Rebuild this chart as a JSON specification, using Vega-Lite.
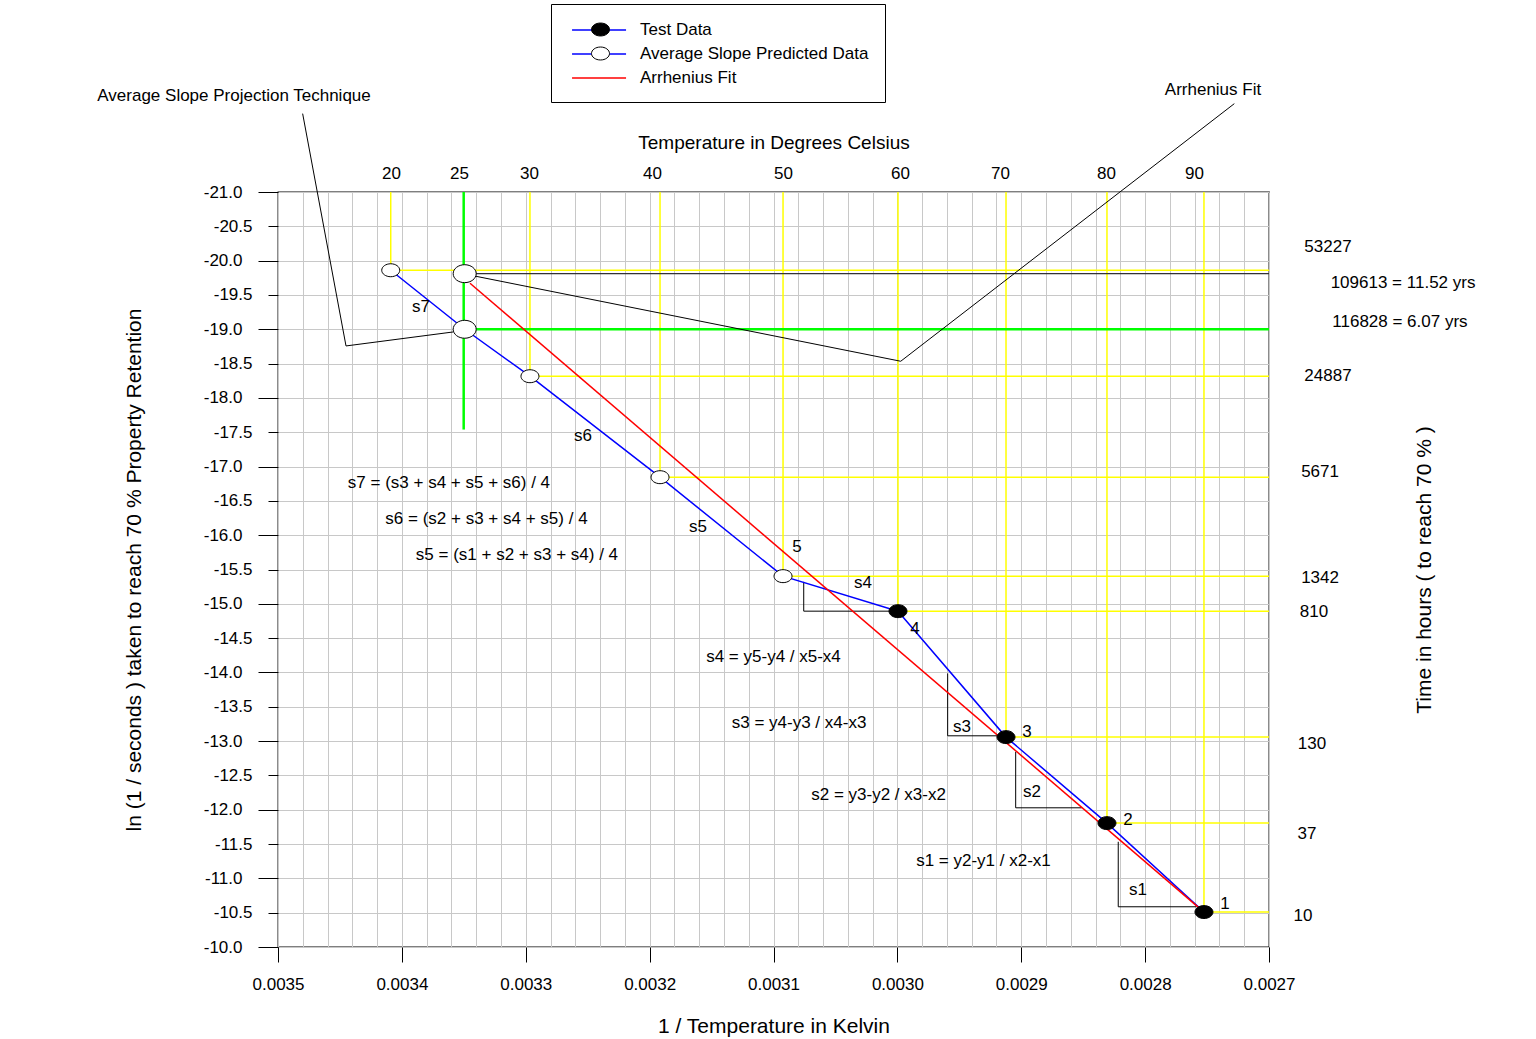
{
  "$schema": "https://vega.github.io/schema/vega-lite/v6.json",
  "width": 991,
  "height": 755,
  "autosize": {"type": "none"},
  "padding": {"left": 278, "top": 192, "right": 267, "bottom": 92},
  "background": "white",
  "datasets": {
    "rules": [
      {"x": 0.003409, "y": -21, "x2": 0.003409, "y2": -19.86, "kind": "guide"},
      {"x": 0.0032966, "y": -21, "x2": 0.0032966, "y2": -18.316, "kind": "guide"},
      {"x": 0.0031916, "y": -21, "x2": 0.0031916, "y2": -16.845, "kind": "guide"},
      {"x": 0.0030923, "y": -21, "x2": 0.0030923, "y2": -15.403, "kind": "guide"},
      {"x": 0.0029995, "y": -21, "x2": 0.0029995, "y2": -14.893, "kind": "guide"},
      {"x": 0.0029123, "y": -21, "x2": 0.0029123, "y2": -13.058, "kind": "guide"},
      {"x": 0.0028308, "y": -21, "x2": 0.0028308, "y2": -11.805, "kind": "guide"},
      {"x": 0.0027525, "y": -21, "x2": 0.0027525, "y2": -10.509, "kind": "guide"},
      {"x": 0.003409, "y": -19.86, "x2": 0.0027, "y2": -19.86, "kind": "guide"},
      {"x": 0.0032966, "y": -18.316, "x2": 0.0027, "y2": -18.316, "kind": "guide"},
      {"x": 0.0031916, "y": -16.845, "x2": 0.0027, "y2": -16.845, "kind": "guide"},
      {"x": 0.0030923, "y": -15.403, "x2": 0.0027, "y2": -15.403, "kind": "guide"},
      {"x": 0.0029995, "y": -14.893, "x2": 0.0027, "y2": -14.893, "kind": "guide"},
      {"x": 0.0029123, "y": -13.058, "x2": 0.0027, "y2": -13.058, "kind": "guide"},
      {"x": 0.0028308, "y": -11.805, "x2": 0.0027, "y2": -11.805, "kind": "guide"},
      {"x": 0.0027525, "y": -10.509, "x2": 0.0027, "y2": -10.509, "kind": "guide"},
      {"x": 0.0033501, "y": -21, "x2": 0.0033501, "y2": -17.539, "kind": "projection"},
      {"x": 0.0033493, "y": -19.0, "x2": 0.0027, "y2": -19.0, "kind": "projection"},
      {"x": 0.0033493, "y": -19.81, "x2": 0.0027, "y2": -19.81, "kind": "fit level"},
      {"x": 0.0034801, "y": -22.142, "x2": 0.0034451, "y2": -18.757, "kind": "pointer"},
      {"x": 0.0034451, "y": -18.757, "x2": 0.0033585, "y2": -18.961, "kind": "pointer"},
      {"x": 0.002728, "y": -22.287, "x2": 0.0029973, "y2": -18.534, "kind": "pointer"},
      {"x": 0.0029973, "y": -18.534, "x2": 0.0033402, "y2": -19.772, "kind": "pointer"},
      {"x": 0.0028217, "y": -11.533, "x2": 0.0028217, "y2": -10.586, "kind": "slope"},
      {"x": 0.0028217, "y": -10.586, "x2": 0.0027584, "y2": -10.586, "kind": "slope"},
      {"x": 0.0029045, "y": -12.844, "x2": 0.0029045, "y2": -12.028, "kind": "slope"},
      {"x": 0.0029045, "y": -12.028, "x2": 0.0028512, "y2": -12.028, "kind": "slope"},
      {"x": 0.0029594, "y": -13.986, "x2": 0.0029594, "y2": -13.077, "kind": "slope"},
      {"x": 0.0029594, "y": -13.077, "x2": 0.0029171, "y2": -13.077, "kind": "slope"},
      {"x": 0.0030756, "y": -15.32, "x2": 0.0030756, "y2": -14.893, "kind": "slope"},
      {"x": 0.0030756, "y": -14.893, "x2": 0.003006, "y2": -14.893, "kind": "slope"}
    ],
    "lines": [
      {"series": "Test Data", "x": 0.0027525, "y": -10.509},
      {"series": "Test Data", "x": 0.0028308, "y": -11.805},
      {"series": "Test Data", "x": 0.0029123, "y": -13.058},
      {"series": "Test Data", "x": 0.0029995, "y": -14.893},
      {"series": "Average Slope Predicted Data", "x": 0.0029995, "y": -14.893},
      {"series": "Average Slope Predicted Data", "x": 0.0030923, "y": -15.403},
      {"series": "Average Slope Predicted Data", "x": 0.0031916, "y": -16.845},
      {"series": "Average Slope Predicted Data", "x": 0.0032966, "y": -18.316},
      {"series": "Average Slope Predicted Data", "x": 0.0033493, "y": -19.0},
      {"series": "Average Slope Predicted Data", "x": 0.003409, "y": -19.86},
      {"series": "Arrhenius Fit", "x": 0.0027525, "y": -10.509},
      {"series": "Arrhenius Fit", "x": 0.003345, "y": -19.67}
    ],
    "points": [
      {"group": "Test Data", "x": 0.0027525, "y": -10.509},
      {"group": "Test Data", "x": 0.0028308, "y": -11.805},
      {"group": "Test Data", "x": 0.0029123, "y": -13.058},
      {"group": "Test Data", "x": 0.0029995, "y": -14.893},
      {"group": "Average Slope Predicted Data", "x": 0.0030923, "y": -15.403},
      {"group": "Average Slope Predicted Data", "x": 0.0031916, "y": -16.845},
      {"group": "Average Slope Predicted Data", "x": 0.0032966, "y": -18.316},
      {"group": "Average Slope Predicted Data", "x": 0.003409, "y": -19.86}
    ],
    "bigpoints": [
      {"x": 0.0033493, "y": -19.0},
      {"x": 0.0033493, "y": -19.81}
    ],
    "texts": [
      {"label": "Average Slope Projection Technique", "x": 0.0035355, "y": -22.394},
      {"label": "Arrhenius Fit", "x": 0.0027452, "y": -22.481},
      {"label": "s7", "x": 0.0033846, "y": -19.321},
      {"label": "s6", "x": 0.0032538, "y": -17.442},
      {"label": "s5", "x": 0.003161, "y": -16.117},
      {"label": "5", "x": 0.003081, "y": -15.825},
      {"label": "s4", "x": 0.0030277, "y": -15.301},
      {"label": "4", "x": 0.0029858, "y": -14.631},
      {"label": "3", "x": 0.0028954, "y": -13.131},
      {"label": "2", "x": 0.0028138, "y": -11.849},
      {"label": "1", "x": 0.0027355, "y": -10.626},
      {"label": "s3", "x": 0.0029478, "y": -13.204},
      {"label": "s2", "x": 0.0028913, "y": -12.257},
      {"label": "s1", "x": 0.0028058, "y": -10.83},
      {"label": "s7 = (s3 + s4 + s5 + s6) / 4", "x": 0.003362, "y": -16.757},
      {"label": "s6 = (s2 + s3 + s4 + s5) / 4", "x": 0.0033317, "y": -16.233},
      {"label": "s5 = (s1 + s2 + s3 + s4) / 4", "x": 0.0033071, "y": -15.709},
      {"label": "s4 = y5-y4 / x5-x4", "x": 0.0031, "y": -14.223},
      {"label": "s3 = y4-y3 / x4-x3", "x": 0.0030794, "y": -13.262},
      {"label": "s2 = y3-y2 / x3-x2", "x": 0.0030152, "y": -12.213},
      {"label": "s1 = y2-y1 / x2-x1", "x": 0.0029305, "y": -11.252},
      {"label": "53227", "x": 0.0026524, "y": -20.195},
      {"label": "109613 = 11.52 yrs", "x": 0.0025918, "y": -19.67},
      {"label": "116828 = 6.07 yrs", "x": 0.0025943, "y": -19.102},
      {"label": "24887", "x": 0.0026524, "y": -18.316},
      {"label": "5671", "x": 0.0026588, "y": -16.918},
      {"label": "1342", "x": 0.0026588, "y": -15.374},
      {"label": "810", "x": 0.0026637, "y": -14.879},
      {"label": "130", "x": 0.0026653, "y": -12.956},
      {"label": "37", "x": 0.0026693, "y": -11.645},
      {"label": "10", "x": 0.0026726, "y": -10.451}
    ]
  },
  "layer": [
    {
      "data": {"name": "rules"},
      "transform": [{"filter": "datum.kind === 'guide'"}],
      "mark": {"type": "rule", "color": "#ffff00", "strokeWidth": 1.5},
      "encoding": {
        "x": {
          "field": "x", "type": "quantitative",
          "scale": {"domain": [0.0027, 0.0035], "reverse": true, "nice": false, "zero": false},
          "axis": {
            "orient": "bottom",
            "title": "1 / Temperature in Kelvin",
            "values": [0.0027, 0.00272, 0.00274, 0.00276, 0.00278, 0.0028, 0.00282, 0.00284, 0.00286, 0.00288, 0.0029, 0.00292, 0.00294, 0.00296, 0.00298, 0.003, 0.00302, 0.00304, 0.00306, 0.00308, 0.0031, 0.00312, 0.00314, 0.00316, 0.00318, 0.0032, 0.00322, 0.00324, 0.00326, 0.00328, 0.0033, 0.00332, 0.00334, 0.00336, 0.00338, 0.0034, 0.00342, 0.00344, 0.00346, 0.00348, 0.0035],
            "labelExpr": "abs(datum.value*10000 - round(datum.value*10000)) < 0.01 ? format(datum.value, '.4f') : ''",
            "labelOverlap": false,
            "labelFlush": false,
            "grid": true,
            "gridColor": "#c8c8c8",
            "gridWidth": 1,
            "tickSize": 15,
            "tickColor": "black",
            "tickOpacity": {"condition": {"test": "abs(datum.value*10000 - round(datum.value*10000)) < 0.01", "value": 1}, "value": 0},
            "labelPadding": 14,
            "titlePadding": 23,
            "titleFontSize": 21,
            "domain": false
          }
        },
        "y": {
          "field": "y", "type": "quantitative",
          "scale": {"domain": [-21, -10], "reverse": true, "nice": false, "zero": false},
          "axis": {
            "orient": "left",
            "title": "ln (1 / seconds ) taken to reach 70 % Property Retention",
            "values": [-21, -20.5, -20, -19.5, -19, -18.5, -18, -17.5, -17, -16.5, -16, -15.5, -15, -14.5, -14, -13.5, -13, -12.5, -12, -11.5, -11, -10.5, -10],
            "labelExpr": "(datum.value < 0 ? '-' : '') + format(abs(datum.value), '.1f')",
            "labelOverlap": false,
            "labelFlush": false,
            "grid": true,
            "gridColor": "#c8c8c8",
            "gridWidth": 1,
            "tickColor": "black",
            "tickSize": {"condition": {"test": "datum.value % 1 === 0", "value": 20}, "value": 10},
            "labelPadding": 16,
            "titlePadding": 59,
            "titleFontSize": 21,
            "domain": false
          }
        },
        "x2": {"field": "x2"},
        "y2": {"field": "y2"}
      }
    },
    {
      "data": {"name": "rules"},
      "transform": [{"filter": "datum.kind === 'projection'"}],
      "mark": {"type": "rule", "color": "#00ff00", "strokeWidth": 2.5},
      "encoding": {
        "x": {"field": "x", "type": "quantitative", "axis": null},
        "y": {"field": "y", "type": "quantitative", "axis": null},
        "x2": {"field": "x2"},
        "y2": {"field": "y2"}
      }
    },
    {
      "data": {"name": "rules"},
      "transform": [{"filter": "datum.kind === 'fit level'"}],
      "mark": {"type": "rule", "color": "#333333", "strokeWidth": 1.2},
      "encoding": {
        "x": {"field": "x", "type": "quantitative", "axis": null},
        "y": {"field": "y", "type": "quantitative", "axis": null},
        "x2": {"field": "x2"},
        "y2": {"field": "y2"}
      }
    },
    {
      "data": {"name": "rules"},
      "transform": [{"filter": "datum.kind === 'pointer' || datum.kind === 'slope'"}],
      "mark": {"type": "rule", "color": "#000000", "strokeWidth": 1},
      "encoding": {
        "x": {"field": "x", "type": "quantitative", "axis": null},
        "y": {"field": "y", "type": "quantitative", "axis": null},
        "x2": {"field": "x2"},
        "y2": {"field": "y2"}
      }
    },
    {
      "data": {"name": "lines"},
      "mark": {"type": "line", "strokeWidth": 1.5},
      "encoding": {
        "x": {"field": "x", "type": "quantitative", "axis": null},
        "y": {"field": "y", "type": "quantitative", "axis": null},
        "stroke": {
          "field": "series", "type": "nominal",
          "scale": {"domain": ["Test Data", "Average Slope Predicted Data", "Arrhenius Fit"], "range": ["#0000ff", "#0000ff", "#ff0000"]},
          "legend": {
            "orient": "none", "legendX": 273, "legendY": -188, "title": null,
            "padding": 16, "strokeColor": "black", "fillColor": "white",
            "symbolType": "M-0.55,0H5.45", "symbolSize": 324, "symbolStrokeWidth": 1.5,
            "labelOffset": 53, "labelFontSize": 17, "labelFont": "Liberation Sans", "labelColor": "black",
            "labelLimit": 500,
            "rowPadding": 6
          }
        }
      }
    },
    {
      "data": {"name": "points"},
      "mark": {"type": "point", "filled": true, "size": 324, "stroke": "black", "strokeWidth": 1, "opacity": 1},
      "encoding": {
        "x": {"field": "x", "type": "quantitative", "axis": null},
        "y": {"field": "y", "type": "quantitative", "axis": null},
        "fill": {
          "field": "group", "type": "nominal",
          "scale": {"domain": ["Test Data", "Average Slope Predicted Data"], "range": ["#000000", "#ffffff"]},
          "legend": {
            "orient": "none", "legendX": 297, "legendY": -188, "title": null,
            "padding": 16, "symbolSize": 324, "symbolStrokeColor": "black", "symbolStrokeWidth": 1,
            "symbolType": "M-1,0A1,0.72 0 1,0 1,0A1,0.72 0 1,0 -1,0Z",
            "labelExpr": "''", "labelFontSize": 17, "labelFont": "Liberation Sans",
            "rowPadding": 6
          }
        },
        "shape": {"value": "M-1,0A1,0.72 0 1,0 1,0A1,0.72 0 1,0 -1,0Z"}
      }
    },
    {
      "data": {"name": "bigpoints"},
      "mark": {"type": "point", "filled": true, "fill": "white", "stroke": "black", "strokeWidth": 1, "opacity": 1, "size": 529, "shape": "M-1,0A1,0.78 0 1,0 1,0A1,0.78 0 1,0 -1,0Z"},
      "encoding": {
        "x": {"field": "x", "type": "quantitative", "axis": null},
        "y": {"field": "y", "type": "quantitative", "axis": null}
      }
    },
    {
      "data": {"name": "texts"},
      "mark": {"type": "text", "align": "center", "baseline": "middle", "fontSize": 17, "font": "Liberation Sans", "color": "black"},
      "encoding": {
        "x": {
          "field": "x", "type": "quantitative",
          "axis": {
            "orient": "top",
            "title": "Temperature in Degrees Celsius",
            "values": [0.0034088, 0.0033539, 0.0032974, 0.0031981, 0.0030923, 0.0029979, 0.0029171, 0.0028316, 0.0027605],
            "labelExpr": "datum.value > 0.00338 ? '20' : datum.value > 0.00332 ? '25' : datum.value > 0.00324 ? '30' : datum.value > 0.00314 ? '40' : datum.value > 0.00305 ? '50' : datum.value > 0.00296 ? '60' : datum.value > 0.00287 ? '70' : datum.value > 0.00279 ? '80' : '90'",
            "labelOverlap": false,
            "labelFlush": false,
            "ticks": false,
            "tickSize": 0,
            "grid": false,
            "domain": false,
            "labelPadding": 10,
            "titlePadding": 12,
            "titleFontSize": 19
          }
        },
        "y": {
          "field": "y", "type": "quantitative",
          "axis": {
            "orient": "right",
            "title": "Time in hours ( to reach 70 % )",
            "labels": false,
            "ticks": false,
            "grid": false,
            "domain": false,
            "titleAngle": 270,
            "titlePadding": 165,
            "titleFontSize": 21
          }
        },
        "text": {"field": "label", "type": "nominal"}
      }
    }
  ],
  "config": {
    "view": {"stroke": "black", "strokeWidth": 1.3},
    "font": "Liberation Sans",
    "axis": {
      "labelFont": "Liberation Sans",
      "labelFontSize": 17,
      "labelColor": "black",
      "titleFont": "Liberation Sans",
      "titleFontWeight": "normal",
      "titleColor": "black"
    }
  }
}
